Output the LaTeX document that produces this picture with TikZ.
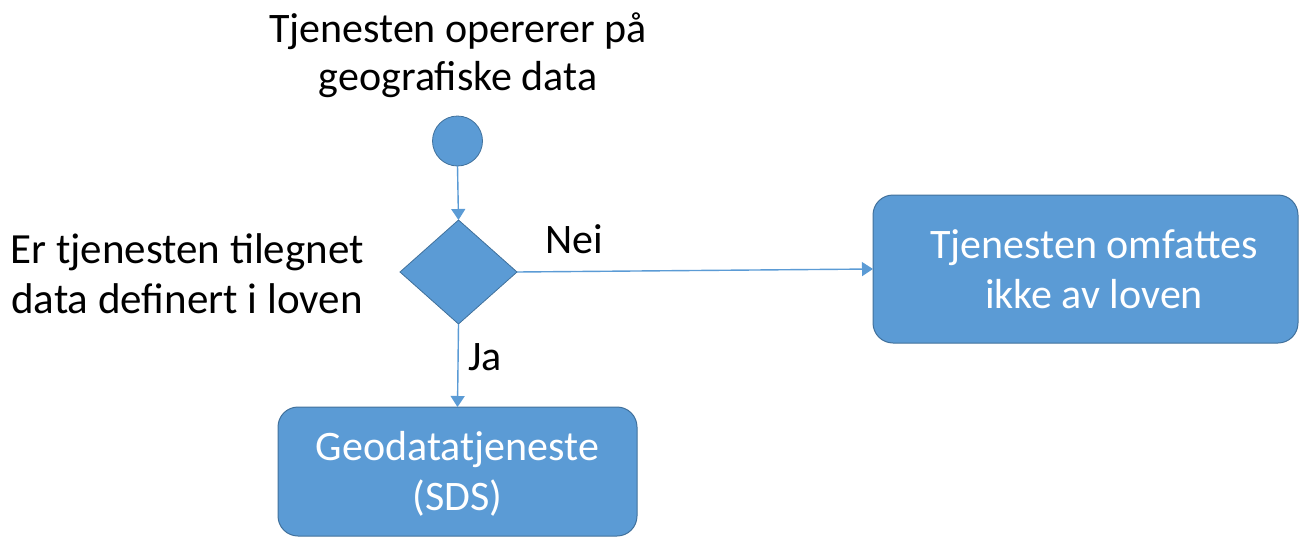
\documentclass[tikz,border=0pt]{standalone}
\usepackage{fontspec}
\setmainfont{Carlito}
\usetikzlibrary{shapes.geometric,arrows.meta}
\definecolor{officeblue}{HTML}{5B9BD5}
\definecolor{officeedge}{HTML}{41719C}
\tikzset{
  every node/.style={inner sep=0pt, outer sep=0pt},
  txt/.style={font=\fontsize{42}{48}\selectfont, align=center, text=black},
  boxtxt/.style={font=\fontsize{42}{50}\selectfont, align=center, text=white},
  rbox/.style={draw=officeedge, line width=1pt, fill=officeblue, rounded corners=20pt},
  flow/.style={draw=officeblue, line width=1.4pt, -{Triangle[width=14pt,length=11pt]}},
}
\begin{document}
\begin{tikzpicture}[x=1pt,y=-1pt]
\useasboundingbox (0,0) rectangle (1301,538);
% start
\node[circle, draw=officeedge, line width=0.8pt, fill=officeblue, minimum size=50pt] (start) at (457.5,141) {};
\node[txt, anchor=base] (toptxt) at (458,90) {Tjenesten opererer på\\geografiske data};
% decision
\node[diamond, draw=officeedge, line width=0.8pt, fill=officeblue, minimum width=117pt, minimum height=104pt] (dec) at (458.5,272) {};
\node[txt, font=\fontsize{43}{50}\selectfont, anchor=base] (dectxt) at (187,313) {Er tjenesten tilegnet\\data definert i loven};
% boxes
\node[rbox, minimum width=425pt, minimum height=148pt] (no) at (1085.5,269) {};
\node[boxtxt, anchor=base] (notxt) at (1094,308) {Tjenesten omfattes\\ikke av loven};
\node[rbox, minimum width=359pt, minimum height=129pt] (yes) at (457.5,471.5) {};
\node[boxtxt, anchor=base] (yestxt) at (457.5,510) {Geodatatjeneste\\(SDS)};
% connectors
\draw[flow] (start.south) -- (dec.north);
\draw[flow] (dec.east) -- (no.west);
\draw[flow] (dec.south) -- (yes.north);
\node[txt, anchor=base west] (nei) at (545,253) {Nei};
\node[txt, anchor=base west] (ja) at (468,370) {Ja};
\end{tikzpicture}
\end{document}
